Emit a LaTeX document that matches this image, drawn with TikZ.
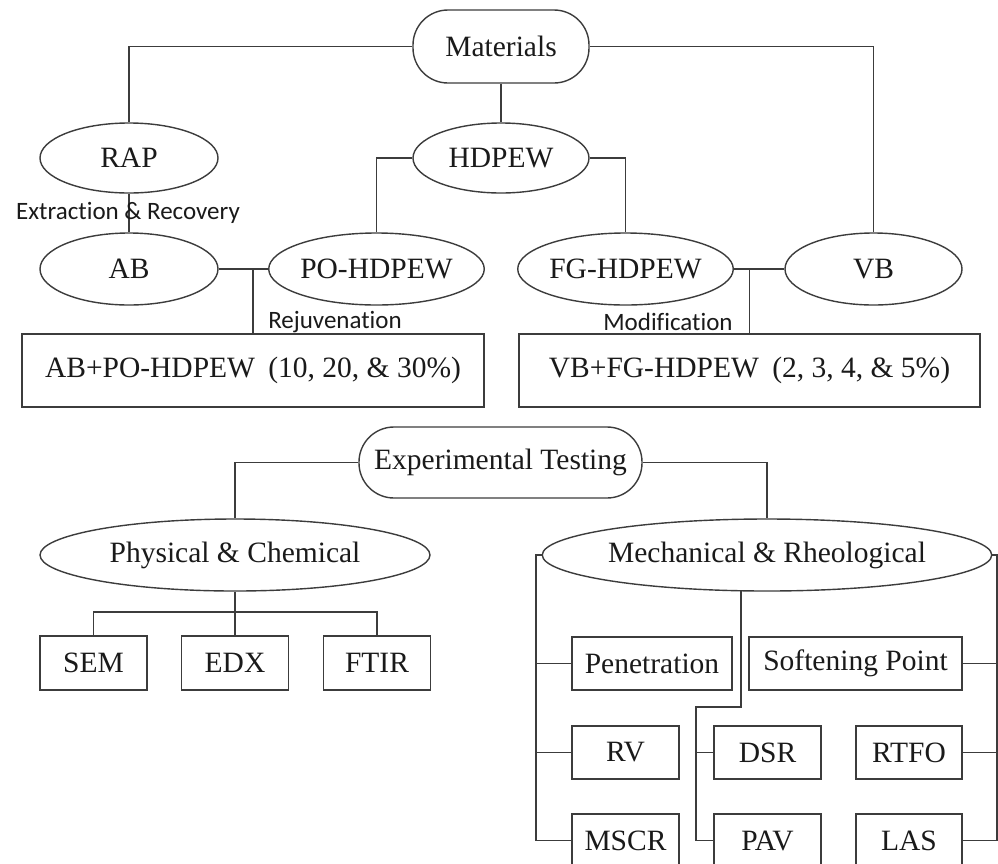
\documentclass[tikz,border=0pt]{standalone}
\usepackage{fontspec}
\setmainfont{Liberation Serif}
\newfontfamily\lblfont[Ligatures={NoCommon}]{Carlito}
\usetikzlibrary{shapes.geometric}
\definecolor{lc}{HTML}{3C3C3C}
\definecolor{tc}{HTML}{1A1A1A}
\begin{document}
\begin{tikzpicture}[x=1pt,y=-1pt,
  ln/.style={draw=lc, line width=1.4pt},
  base/.style={draw=lc, line width=1.4pt, inner sep=0pt, text=tc, font=\fontsize{29.5}{34}\selectfont},
  ell/.style={base, ellipse},
  stad/.style={base, rectangle, rounded corners=35pt},
  bx/.style={base, rectangle},
  lbl/.style={inner sep=0pt, text=tc, font=\lblfont\fontsize{25}{30}\selectfont}]
\useasboundingbox (0,0) rectangle (998,863);
\clip (0,0) rectangle (998,863);
\fill[white] (0,0) rectangle (998,863);

% Materials part
\node[stad, minimum width=176pt, minimum height=73pt] (mat) at (501,46.5) {Materials};
\node[ell, minimum width=178pt, minimum height=70pt] (rap) at (129,158) {RAP};
\node[ell, minimum width=176pt, minimum height=70pt] (hd) at (501,158) {HDPEW};
\node[ell, minimum width=178pt, minimum height=72pt] (ab) at (129,269) {AB};
\node[ell, minimum width=177pt, minimum height=72pt] (po) at (376.5,269) {PO-HDPEW};
\node[ell, minimum width=179pt, minimum height=72pt] (fg) at (625.5,269) {FG-HDPEW};
\node[ell, minimum width=177pt, minimum height=72pt] (vb) at (873.5,269) {VB};
\node[bx, minimum width=462pt, minimum height=73pt] (box1) at (253,370.5) {AB+PO-HDPEW\hspace{6pt} (10, 20, \& 30\%)};
\node[bx, minimum width=461pt, minimum height=73pt] (box2) at (749.5,370.5) {VB+FG-HDPEW\hspace{6pt} (2, 3, 4, \& 5\%)};

\draw[ln] (mat.west) -| (rap.north);
\draw[ln] (mat.east) -| (vb.north);
\draw[ln] (mat.south) -- (hd.north);
\draw[ln] (hd.west) -| (po.north);
\draw[ln] (hd.east) -| (fg.north);
\draw[ln] (rap.south) -- (ab.north);
\draw[ln] (ab.east) -- (po.west);
\draw[ln] (box1.north) -- (box1.north |- ab.east);
\draw[ln] (fg.east) -- (vb.west);
\draw[ln] (box2.north) -- (box2.north |- vb.west);

\node[lbl] (l1) at (128,213) {Extraction \& Recovery};
\node[lbl] (l2) at (335,322) {Rejuvenation};
\node[lbl] (l3) at (668,322) {Modification};

% Experimental testing part
\node[stad, minimum width=283pt, minimum height=71pt] (exp) at (500.5,462.5) {Experimental Testing};
\node[ell, minimum width=390pt, minimum height=72pt] (phys) at (235,555) {Physical \& Chemical};
\node[ell, minimum width=390pt, minimum height=72pt] (mech) at (767,555) {Mechanical \& Rheological};

\node[bx, minimum width=107pt, minimum height=54pt] (sem) at (93.5,663) {SEM};
\node[bx, minimum width=107pt, minimum height=54pt] (edx) at (235,663) {EDX};
\node[bx, minimum width=107pt, minimum height=54pt] (ftir) at (377,663) {FTIR};

\node[bx, minimum width=160pt, minimum height=53pt] (pen) at (652,663.5) {Penetration};
\node[bx, minimum width=213pt, minimum height=53pt] (soft) at (855.5,663.5) {Softening Point};
\node[bx, minimum width=107pt, minimum height=53pt] (rv) at (625.5,752.5) {RV};
\node[bx, minimum width=107pt, minimum height=53pt] (dsr) at (767.5,752.5) {DSR};
\node[bx, minimum width=106pt, minimum height=53pt] (rtfo) at (909,752.5) {RTFO};
\node[bx, minimum width=107pt, minimum height=53pt] (mscr) at (625.5,840.5) {MSCR};
\node[bx, minimum width=107pt, minimum height=53pt] (pav) at (767.5,840.5) {PAV};
\node[bx, minimum width=106pt, minimum height=53pt] (las) at (909,840.5) {LAS};

\draw[ln] (exp.west) -| (phys.north);
\draw[ln] (exp.east) -| (mech.north);

\coordinate (pj) at (235,612);
\draw[ln] (phys.south) -- (edx.north);
\draw[ln] (sem.north) |- (pj) -| (ftir.north);

\coordinate (ml) at (536,555);
\draw[ln] (mech.west) -- (ml) |- (mscr.west);
\draw[ln] (ml) |- (pen.west);
\draw[ln] (ml) |- (rv.west);

\coordinate (mr) at (997,555);
\draw[ln] (mech.east) -- (mr) |- (las.east);
\draw[ln] (mr) |- (soft.east);
\draw[ln] (mr) |- (rtfo.east);

\coordinate (mb1) at (741,707);
\coordinate (mb2) at (696,707);
\draw[ln] ([xshift=-26pt,yshift=0.3pt]mech.south) -- (mb1) -- (mb2) |- (pav.west);
\draw[ln] (mb2) |- (dsr.west);
\end{tikzpicture}
\end{document}
